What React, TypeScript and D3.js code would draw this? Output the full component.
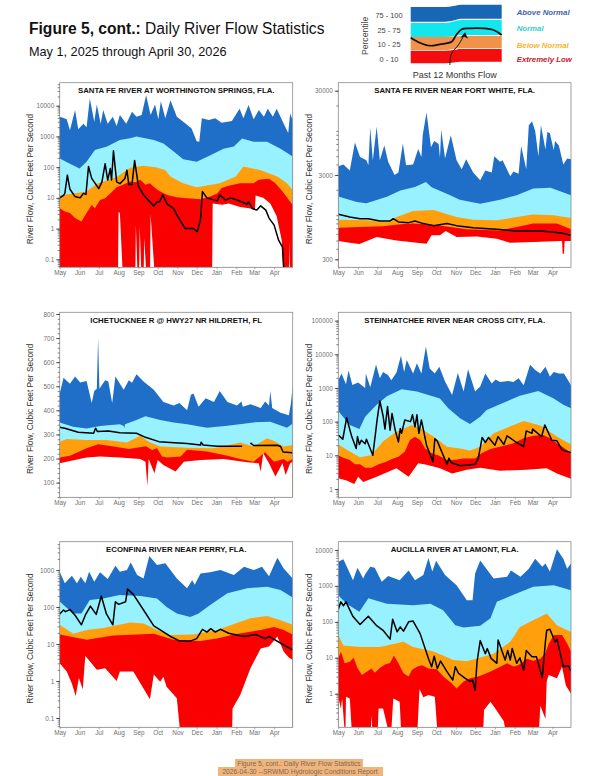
import * as d3 from "d3";
import {useRef, useEffect} from "react";

type Knot = [number, number];

const FONT = "'Liberation Sans', Arial, sans-serif";
const monthDays = [0, 31, 61, 92, 123, 153, 184, 214, 245, 276, 304, 335];
const monthLabels = ["May", "Jun", "Jul", "Aug", "Sep", "Oct", "Nov", "Dec", "Jan", "Feb", "Mar", "Apr"];

// values below the axis floor sit at 0.02 so the red runs out of the plot
const sfwMax: Knot[] = [[0,4400],[6,4000],[11,3600],[16,1600],[24,7200],[29,1700],[37,2600],[42,2000],[47,17000],[54,3000],[58,11000],[64,2600],[68,7200],[75,2600],[83,4400],[89,2200],[94,5000],[104,2600],[113,6400],[120,4400],[128,5000],[135,22000],[142,5000],[149,11000],[154,3600],[158,14000],[165,3900],[173,15000],[183,4400],[193,3000],[206,1800],[214,700],[218,670],[222,3900],[233,3400],[243,3900],[253,2800],[269,3200],[281,8000],[287,3900],[295,10500],[303,3600],[311,7200],[319,4400],[325,8000],[333,4400],[339,8000],[350,2600],[357,1300],[360,5600],[364,3400]];
const sfwP75: Knot[] = [[0,190],[16,130],[31,90],[42,150],[55,360],[74,470],[94,760],[110,870],[120,1000],[147,760],[162,590],[178,320],[193,180],[214,150],[233,230],[256,400],[272,470],[285,860],[303,670],[324,670],[345,400],[364,220]];
const sfwP25: Knot[] = [[0,12],[22,14],[42,16],[58,29],[89,48],[110,95],[130,110],[150,100],[165,80],[173,50],[193,30],[214,22],[250,30],[275,50],[287,105],[313,80],[340,50],[355,30],[364,18]];
const sfwP10: Knot[] = [[0,4.6],[8,3.6],[16,3.2],[24,2.2],[34,1.7],[42,3.2],[50,5.9],[55,4.6],[63,8.6],[71,9.8],[79,14],[89,22],[99,26.5],[110,34],[118,32],[126,39],[134,26.5],[141,30],[149,21],[157,16],[168,12.5],[183,10.5],[199,9.8],[220,9],[235,11],[246,14],[253,21],[264,25],[282,30],[303,30],[311,39],[327,42],[337,30],[348,16],[356,9.8],[364,5.9]];
const sfwMin: Knot[] = [[0,0.02],[91,0.02],[92,3.5],[94,3.2],[99,0.02],[118,0.02],[119,1.3],[122,0.02],[124,0.02],[125,1.2],[128,0.02],[131,0.02],[132,0.5],[136,0.02],[141,0.02],[142,3],[149,0.02],[238,0.02],[239,6.5],[254,6],[264,6.5],[282,5],[298,4.5],[305,4],[306,12],[318,10],[329,6.5],[339,2.5],[347,0.4],[350,0.02],[358,0.02],[359,0.4],[360,0.02],[364,0.02]];
const sfwFlow: Knot[] = [[0,10],[6,12],[8,14],[12,55],[16,19],[24,11],[32,10],[37,14],[41,13],[45,105],[50,43],[61,20],[66,33],[71,130],[75,38],[79,90],[81,38],[84,340],[89,33],[94,29],[102,43],[105,80],[108,27],[113,27],[117,165],[123,24],[131,12.5],[147,5.4],[152,7.5],[156,7.5],[161,12.5],[168,6.3],[178,4.5],[183,2.8],[196,1],[209,1],[215,0.8],[220,2],[223,16],[230,10],[246,8],[250,12.5],[259,8.5],[267,10],[277,8.5],[293,6.2],[295,7.5],[301,4.5],[308,4],[314,5.5],[322,4],[327,2.2],[335,1.3],[342,0.42],[348,0.25],[351,0.02]];

const fwMax: Knot[] = [[0,3800],[8,4000],[18,3400],[26,7300],[34,4900],[44,4500],[47,3900],[50,10900],[54,4500],[60,11200],[65,4500],[72,6700],[78,4300],[88,3000],[94,3200],[101,7100],[106,3900],[117,4000],[125,6100],[130,4900],[132,8900],[138,16500],[145,6400],[150,7600],[157,7000],[159,4800],[161,10300],[167,4700],[176,8900],[185,4500],[193,3500],[200,4600],[211,3200],[222,2600],[230,3400],[240,3200],[244,5000],[253,4300],[257,4500],[269,2900],[274,3300],[282,3100],[286,6600],[294,3500],[298,11700],[303,13000],[308,10000],[313,5000],[317,11700],[324,6000],[327,9700],[331,9400],[337,5900],[339,7600],[345,6700],[352,4000],[358,4700],[364,4600]];
const fwP75: Knot[] = [[0,1670],[29,1430],[44,1390],[76,1650],[97,1970],[120,2160],[137,2480],[146,2150],[175,1720],[190,1530],[222,1370],[253,1530],[279,1720],[305,2070],[332,2120],[364,1720]];
const fwP25: Knot[] = [[0,885],[44,870],[76,830],[91,950],[117,1120],[149,1150],[185,950],[211,885],[248,870],[279,950],[305,1020],[337,1000],[364,925]];
const fwP10: Knot[] = [[0,710],[34,725],[70,740],[97,780],[117,795],[149,770],[175,725],[201,680],[253,660],[279,725],[305,795],[342,795],[364,680]];
const fwMin: Knot[] = [[0,495],[18,470],[33,455],[60,550],[91,500],[123,470],[138,460],[146,580],[159,580],[168,650],[185,550],[217,560],[248,525],[269,470],[305,480],[350,495],[351,350],[353,350],[354,495],[364,495]];
const fwFlow: Knot[] = [[0,1025],[18,954],[34,910],[47,910],[65,855],[81,855],[86,910],[94,832],[110,816],[120,855],[133,795],[149,752],[170,795],[185,752],[211,711],[253,675],[279,650],[317,650],[349,615],[364,578]];

const ichMax: Knot[] = [[0,470],[6,535],[16,510],[24,540],[32,516],[42,522],[50,430],[54,480],[58,490],[60,700],[62,490],[71,525],[76,520],[82,430],[87,540],[100,485],[108,525],[113,515],[120,550],[131,520],[147,485],[162,435],[178,420],[187,430],[199,400],[205,465],[209,470],[217,415],[228,450],[241,435],[250,480],[262,435],[277,420],[284,437],[286,415],[298,425],[314,410],[321,437],[327,420],[329,480],[332,410],[345,390],[358,380],[361,425],[364,500]];
const ichP75: Knot[] = [[0,350],[21,332],[42,325],[63,335],[94,342],[100,335],[101,326],[102,342],[120,360],[134,375],[157,360],[178,350],[199,342],[230,328],[262,336],[303,350],[329,353],[355,328],[364,345]];
const ichP25: Knot[] = [[0,270],[11,281],[42,277],[73,277],[105,267],[118,284],[126,295],[139,270],[157,250],[199,245],[240,243],[262,254],[282,267],[303,250],[324,284],[335,273],[350,250],[364,256]];
const ichP10: Knot[] = [[0,204],[16,212],[42,243],[60,259],[84,250],[108,240],[135,251],[144,235],[152,243],[160,208],[168,204],[189,208],[199,236],[230,229],[262,212],[282,198],[303,187],[321,226],[327,208],[335,187],[350,198],[356,187],[364,198]];
const ichMin: Knot[] = [[0,180],[16,190],[42,204],[63,208],[94,204],[126,198],[134,187],[137,86],[139,198],[144,165],[148,139],[153,194],[162,173],[181,146],[194,187],[220,194],[256,198],[293,184],[311,180],[314,146],[318,222],[327,180],[337,125],[348,180],[353,132],[360,180],[364,187]];
const ichFlow: Knot[] = [[0,330],[8,326],[29,309],[53,305],[56,326],[59,312],[76,314],[94,307],[120,305],[134,288],[155,270],[173,267],[199,262],[220,256],[221,268],[224,256],[246,251],[272,251],[285,251],[287,NaN],[291,251],[296,NaN],[298,265],[303,254],[340,255],[345,250],[349,227],[364,224]];

const steMax: Knot[] = [[0,1700],[5,2700],[12,1280],[16,3300],[22,1220],[31,1450],[42,1000],[43,2700],[50,1050],[59,5000],[65,1950],[70,3000],[78,2400],[83,1700],[91,2900],[98,9000],[103,3000],[107,6800],[117,2700],[123,5400],[130,2700],[137,17000],[143,3800],[151,2700],[158,4300],[167,1550],[178,620],[187,2800],[196,780],[203,3600],[214,780],[222,1100],[230,2700],[240,1350],[246,1800],[253,1500],[266,1600],[274,1500],[282,1950],[290,1200],[300,4900],[308,3400],[316,2700],[324,4300],[331,2200],[337,3000],[345,2700],[353,2700],[364,1200]];
const steP75: Knot[] = [[0,207],[18,80],[33,60],[42,140],[60,320],[76,570],[99,920],[123,780],[159,490],[172,250],[191,125],[206,85],[222,140],[232,220],[253,330],[284,590],[313,820],[337,490],[352,320],[364,250]];
const steP25: Knot[] = [[0,21],[18,13],[34,8.7],[52,10.2],[70,26],[89,48],[115,80],[128,64],[149,36],[170,18],[191,16],[206,14],[222,18],[243,45],[264,66],[290,105],[316,77],[342,36],[364,21]];
const steP10: Knot[] = [[0,9.8],[8,8.5],[18,7.3],[26,5.4],[34,5.4],[42,4.3],[52,4.3],[63,5.4],[73,6.2],[84,7.8],[94,9.1],[104,12.8],[112,28.6],[120,35.8],[128,28.6],[136,16],[146,11.5],[157,9.8],[170,7.3],[180,7.3],[196,8.1],[214,8.1],[224,11.5],[238,15.4],[253,18],[274,22.7],[290,32],[305,38],[321,40],[331,32],[342,22.7],[352,17],[364,11.5]];
const steMin: Knot[] = [[0,2.1],[13,1.8],[25,1.4],[31,2.3],[39,1.6],[60,2.3],[91,4.1],[110,2.3],[125,5.8],[138,5.2],[159,4.1],[178,2.9],[201,3.7],[222,4.3],[253,3.5],[295,3.7],[326,4.1],[342,2.9],[364,2]];
const steFlow: Knot[] = [[0,40],[7,30],[13,130],[21,36],[28,16],[30,36],[33,21],[36,28],[42,22],[44,30],[54,10],[61,125],[65,410],[70,150],[73,60],[77,280],[81,56],[84,175],[89,56],[94,25],[97,63],[99,45],[104,112],[113,100],[116,160],[120,70],[123,160],[126,45],[130,112],[138,20],[148,6.5],[151,31],[155,26],[170,5.4],[173,8.2],[177,6],[191,4.9],[214,5.4],[219,8.2],[225,34],[230,24],[235,34],[245,20],[250,36],[259,21],[264,38],[279,24],[290,18],[294,53],[303,45],[304,60],[318,36],[323,80],[334,28],[342,27],[350,14.5],[364,12]];

const econMax: Knot[] = [[0,900],[8,440],[19,700],[27,440],[33,660],[40,440],[46,900],[54,480],[63,870],[75,570],[87,1300],[94,900],[105,1000],[111,1600],[121,730],[131,590],[140,2400],[152,1370],[165,1520],[183,590],[199,320],[207,530],[211,400],[220,800],[235,870],[251,1000],[272,730],[288,1230],[303,1000],[316,1230],[327,680],[340,2150],[350,1100],[364,590]];
const econP75: Knot[] = [[0,140],[21,67],[34,67],[47,155],[68,170],[94,210],[126,200],[152,170],[167,100],[183,67],[204,54],[217,67],[235,113],[262,235],[293,320],[324,355],[345,290],[364,180]];
const econP25: Knot[] = [[0,33],[21,19],[42,24],[68,27],[110,38],[131,36],[152,24],[173,17.5],[209,18],[246,24],[272,35],[298,50],[324,57],[345,44],[364,33]];
const econP10: Knot[] = [[0,18],[42,13],[84,17],[147,19],[178,13],[220,12],[246,14],[272,18],[314,24],[335,29],[350,24],[364,18]];
const econMin: Knot[] = [[0,3],[11,1.8],[19,0.86],[25,0.39],[30,1.2],[36,0.6],[40,4.8],[58,2],[71,2.2],[89,1],[94,1.8],[115,1.8],[141,0.32],[147,1.5],[157,0.96],[162,1.3],[167,0.7],[183,0.34],[190,0.02],[269,0.02],[270,0.18],[282,0.42],[298,2.2],[314,7.6],[327,8.5],[340,16],[350,6.2],[358,4.3],[364,3.7]];
const econFlow: Knot[] = [[0,65],[6,83],[9,75],[16,85],[24,60],[34,33],[40,60],[48,106],[57,63],[65,198],[73,65],[83,33],[87,139],[92,118],[103,139],[106,305],[115,220],[131,83],[147,31],[157,24],[173,16],[188,12],[204,12],[214,14],[223,25],[230,21],[236,26],[243,21],[251,25],[264,19.5],[288,16],[306,18],[321,14],[327,16],[350,9.4],[364,6.9]];

const aucMax: Knot[] = [[0,4700],[8,5500],[23,1430],[30,3200],[39,1600],[42,2100],[50,3400],[57,3200],[68,1300],[78,1900],[96,1430],[110,2700],[120,1430],[133,2000],[141,6000],[147,2500],[153,5000],[167,2000],[185,1050],[201,400],[210,400],[214,2200],[222,5100],[243,1600],[264,1800],[270,2700],[285,1800],[298,3000],[308,5700],[319,3400],[324,4200],[331,2500],[342,10400],[352,5700],[358,3000],[364,4200]];
const aucP75: Knot[] = [[0,550],[13,320],[33,190],[47,450],[76,320],[117,290],[144,320],[164,210],[183,80],[196,70],[222,78],[238,125],[248,360],[274,570],[305,940],[337,1050],[364,760]];
const aucP25: Knot[] = [[0,43],[8,22],[34,20],[65,20],[102,28],[117,20],[149,15],[180,8.6],[201,8],[217,9.6],[243,13],[269,28],[284,72],[305,110],[326,170],[342,80],[364,52]];
const aucP10: Knot[] = [[0,9.6],[4,14.7],[10,7],[18,7.8],[24,10],[30,5.2],[37,3.3],[44,4],[52,5],[57,3.8],[65,5.2],[73,6.5],[81,7.2],[87,11.5],[94,7],[102,3.7],[110,3],[115,4.6],[123,5.6],[131,6.2],[141,5],[154,4.8],[165,2.9],[175,2.1],[185,1.4],[196,2.2],[206,2.7],[219,3],[232,3.7],[248,5],[264,7],[274,5.7],[282,6.3],[295,9.4],[305,8.2],[316,9.4],[324,13.6],[329,24],[337,43],[350,43],[358,25],[364,15]];
const aucMin: Knot[] = [[0,0.8],[4,0.39],[6,0.74],[11,0.05],[12,0.82],[18,0.74],[22,0.05],[50,0.05],[52,0.25],[54,0.05],[61,0.05],[63,0.39],[70,0.39],[82,0.05],[86,0.74],[96,0.6],[99,0.05],[123,0.05],[127,1.35],[133,0.8],[141,0.92],[151,0.82],[156,0.05],[226,0.05],[228,0.35],[238,0.6],[245,0.4],[259,0.17],[264,0.05],[313,0.05],[316,0.46],[324,0.2],[326,2.2],[329,3.3],[342,2.7],[350,5.6],[356,1.7],[364,1]];
const aucFlow: Knot[] = [[0,225],[4,360],[8,280],[12,360],[23,140],[34,84],[47,143],[60,78],[70,58],[81,33],[85,118],[92,53],[97,72],[102,55],[110,100],[117,105],[128,47],[141,9.6],[146,5.6],[150,11],[155,5],[160,8.1],[170,4.1],[179,2.4],[183,5.6],[188,3.7],[198,2.7],[206,2.2],[210,2.4],[214,1.26],[217,7.7],[222,30],[230,13],[233,18],[239,9.6],[248,7],[250,31],[261,8.6],[265,16],[269,8.6],[272,18],[279,7],[284,10],[290,4.5],[294,16],[303,10.6],[310,10.6],[319,2.8],[324,28],[326,58],[331,62],[339,28],[342,33],[352,5.6],[360,6],[364,4.3]];

// legend sketch: edges in legend units, shared x stops
const legendX = [0, 38, 47, 55, 100];
const legendBands = [
  {color: "#1767b5", top: [57, 57, 58, 59.3, 59.3], bottom: [42.3, 42.3, 43.5, 45.3, 45.3]},
  {color: "#14e6ee", top: [41, 41, 42.5, 44, 44], bottom: [27, 27, 28, 29, 29]},
  {color: "#f0924a", top: [27, 27, 27.5, 28, 28], bottom: [14, 14, 15, 15.7, 15.7]},
  {color: "#f40d0d", top: [13.3, 13.3, 14, 15, 15], bottom: [0.7, 0.7, 1.5, 2.3, 2.3]},
];
const legendFlowX = [0, 10, 21, 32, 45, 50, 56, 65, 80, 91, 100];
const legendFlowY = [26.3, 21.3, 18.3, 19.7, 22.3, 29, 34.7, 35.7, 35.7, 34, 29];
const legendArrowX = [43, 45, 52.4, 59.7];
const legendArrowY = [-1, 10.7, 19, 30.7];
const percentileLabels = ["75 - 100", "25 - 75", "10 - 25", "0 - 10"];
const statusLabels = [
  {text: "Above Normal", color: "#3f63ad"},
  {text: "Normal", color: "#2fd0d0"},
  {text: "Below Normal", color: "#f3b62f"},
  {text: "Extremely Low", color: "#c4202c"},
];

const BLUE = "#1f6fc9";
const CYAN = "#98f1ff";
const ORANGE = "#ff9f0c";
const RED = "#fb0000";

interface PanelProps {
  title: string;
  left: number;
  top: number;
  width: number;
  height: number;
  log: boolean;
  domain: [number, number];
  majors: number[];
  minors: number[];
  bands: Knot[][];
  floor: Knot[];
  flow: Knot[];
}

const Panel = ({title, left, top, width, height, log, domain, majors, minors, bands, floor, flow}: PanelProps) => {
  const gx = useRef<SVGGElement | null>(null);
  const gy = useRef<SVGGElement | null>(null);
  const gminor = useRef<SVGGElement | null>(null);

  const x = d3.scaleLinear().domain([0, 364]).range([0, width]);
  const y = (log ? d3.scaleLog() : d3.scaleLinear()).domain(domain).range([height, 0]);

  const area = d3
    .area<Knot>()
    .x((d) => x(d[0]))
    .y0(height)
    .y1((d) => y(d[1]) as number);

  const line = d3
    .line<Knot>()
    .defined((d) => !Number.isNaN(d[1]))
    .x((d) => x(d[0]))
    .y((d) => y(d[1]) as number);

  useEffect(() => {
    if (gx.current) {
      const g = d3.select(gx.current);
      g.call(
        d3
          .axisBottom(x)
          .tickValues(monthDays)
          .tickSize(2)
          .tickPadding(1.5)
          .tickFormat((_, i) => monthLabels[i])
      );
      g.select(".domain").remove();
      g.selectAll("line").attr("stroke", "#777").attr("stroke-width", 0.6);
      g.selectAll("text").attr("fill", "#707070").attr("font-size", 6.4).attr("font-family", FONT);
    }
    if (gminor.current) {
      const g = d3.select(gminor.current);
      g.call(d3.axisLeft(y as any).tickValues(minors).tickSize(2).tickFormat(() => ""));
      g.select(".domain").remove();
      g.selectAll("line").attr("stroke", "#333").attr("stroke-width", 0.6);
    }
    if (gy.current) {
      const g = d3.select(gy.current);
      g.call(
        d3
          .axisLeft(y as any)
          .tickValues(majors)
          .tickSize(3.5)
          .tickPadding(2)
          .tickFormat((d) => String(d))
      );
      g.select(".domain").remove();
      g.selectAll("line").attr("stroke", "#333").attr("stroke-width", 0.8);
      g.selectAll("text").attr("fill", "#707070").attr("font-size", 6.4).attr("font-family", FONT);
    }
  }, []);

  const clipId = `clip-${left}-${top}`;

  return (
    <g transform={`translate(${left},${top})`}>
      <clipPath id={clipId}>
        <rect width={width} height={height} />
      </clipPath>
      <g clipPath={`url(#${clipId})`}>
        <path d={area(bands[0]) ?? ""} fill={BLUE} />
        <path d={area(bands[1]) ?? ""} fill={CYAN} />
        <path d={area(bands[2]) ?? ""} fill={ORANGE} />
        <path d={area(bands[3]) ?? ""} fill={RED} />
        <path d={area(floor) ?? ""} fill="#fff" />
        <path d={line(flow) ?? ""} fill="none" stroke="#000" strokeWidth={1.5} strokeLinejoin="round" />
      </g>
      <rect width={width} height={height} fill="none" stroke="#8a8a8a" strokeWidth={0.8} />
      <g ref={gminor} />
      <g ref={gy} />
      <g ref={gx} transform={`translate(0,${height})`} />
      <text x={width / 2} y={10.8} textAnchor="middle" fontFamily={FONT} fontSize={7.8} fontWeight="bold" fill="#111">
        {title}
      </text>
      <text
        transform={`translate(-26.5,${height / 2 + 4}) rotate(-90)`}
        textAnchor="middle"
        fontFamily={FONT}
        fontSize={8.4}
        fill="#333"
      >
        River Flow, Cubic Feet Per Second
      </text>
    </g>
  );
};

const logMinors = (lo: number, hi: number) =>
  d3.range(Math.floor(Math.log10(lo)), Math.ceil(Math.log10(hi)))
    .flatMap((e) => d3.range(1, 10).map((m) => m * 10 ** e))
    .filter((v) => v >= lo && v <= hi);

const Legend = () => {
  const lx = d3.scaleLinear().domain([0, 100]).range([410.7, 501.7]);
  const ly = d3.scaleLinear().domain([0, 60]).range([64, 4]);
  const pts = (ys: number[]) => legendX.map((v, i) => [v, ys[i]] as [number, number]);
  const band = d3
    .area<[number, number, number]>()
    .curve(d3.curveMonotoneX)
    .x((d) => lx(d[0]))
    .y0((d) => ly(d[2]))
    .y1((d) => ly(d[1]));
  const curve = d3
    .line<[number, number]>()
    .curve(d3.curveCatmullRom)
    .x((d) => lx(d[0]))
    .y((d) => ly(d[1]));
  const flow = legendFlowX.map((v, i) => [v, legendFlowY[i]] as [number, number]);
  const arrow = legendArrowX.map((v, i) => [v, legendArrowY[i]] as [number, number]);
  const tip = arrow[arrow.length - 1];
  const rows = [15.7, 30, 44, 59];
  const statusRows = [12.3, 28, 45, 59];

  return (
    <g>
      {legendBands.map((b) => (
        <path
          key={b.color}
          d={band(pts(b.top).map((p, i) => [p[0], p[1], b.bottom[i]] as [number, number, number])) ?? ""}
          fill={b.color}
        />
      ))}
      <path d={curve(flow) ?? ""} fill="none" stroke="#111" strokeWidth={1.7} />
      <path d={curve(arrow) ?? ""} fill="none" stroke="#111" strokeWidth={1} />
      <path
        d={`M${lx(tip[0])},${ly(tip[1]) - 1}l-4.5,5.5 l4,-1 l3.5,2z`}
        fill="#111"
      />
      {percentileLabels.map((t, i) => (
        <text key={t} x={389} y={rows[i] + 2.6} textAnchor="middle" fontFamily={FONT} fontSize={7.4} fill="#444">
          {t}
        </text>
      ))}
      <text transform="translate(368,55) rotate(-90)" fontFamily={FONT} fontSize={8.6} fill="#444">
        Percentile
      </text>
      {statusLabels.map((s, i) => (
        <text key={s.text} x={516.7} y={statusRows[i] + 2.7} fontFamily={FONT} fontSize={7.8} fontStyle="italic" fontWeight="bold" fill={s.color}>
          {s.text}
        </text>
      ))}
      <text x={454.7} y={77.8} textAnchor="middle" fontFamily={FONT} fontSize={9} fill="#333">
        Past 12 Months Flow
      </text>
    </g>
  );
};

const PW = 233;
const PW2 = 232.7;
const PH = 184.6;
const PH2 = 185;
const PH3 = 185.6;

export default function App() {
  const log1: [number, number] = [0.055, 56000];
  return (
    <svg width={600} height={776} style={{position: "absolute", left: 0, top: 0, background: "#fff"}}>
      <text x={29} y={34} fontFamily={FONT} fontSize={15.6} fill="#111">
        <tspan fontWeight="bold">Figure 5, cont.:</tspan> Daily River Flow Statistics
      </text>
      <text x={29} y={55.7} fontFamily={FONT} fontSize={12.7} fill="#111">
        May 1, 2025 through April 30, 2026
      </text>
      <Legend />

      <Panel
        title="SANTA FE RIVER AT WORTHINGTON SPRINGS, FLA."
        left={59.7} top={82.7} width={PW} height={PH}
        log domain={log1}
        majors={[0.1, 1, 10, 100, 1000, 10000]}
        minors={logMinors(0.06, 50000)}
        bands={[sfwMax, sfwP75, sfwP25, sfwP10]} floor={sfwMin} flow={sfwFlow}
      />
      <Panel
        title="SANTA FE RIVER NEAR FORT WHITE, FLA."
        left={338.3} top={82.7} width={PW2} height={PH}
        log domain={[241, 37300]}
        majors={[300, 3000, 30000]}
        minors={logMinors(250, 36000)}
        bands={[fwMax, fwP75, fwP25, fwP10]} floor={fwMin} flow={fwFlow}
      />
      <Panel
        title="ICHETUCKNEE R @ HWY27 NR HILDRETH, FL"
        left={59.7} top={312.3} width={PW} height={PH2}
        log={false} domain={[39, 807]}
        majors={[100, 200, 300, 400, 500, 600, 700, 800]}
        minors={d3.range(40, 801, 20)}
        bands={[ichMax, ichP75, ichP25, ichP10]} floor={ichMin} flow={ichFlow}
      />
      <Panel
        title="STEINHATCHEE RIVER NEAR CROSS CITY, FLA."
        left={338.3} top={312.3} width={PW2} height={PH2}
        log domain={[0.566, 177000]}
        majors={[1, 10, 100, 1000, 10000, 100000]}
        minors={logMinors(0.6, 170000)}
        bands={[steMax, steP75, steP25, steP10]} floor={steMin} flow={steFlow}
      />
      <Panel
        title="ECONFINA RIVER NEAR PERRY, FLA."
        left={59.7} top={541.7} width={PW} height={PH3}
        log domain={[0.056, 5830]}
        majors={[0.1, 1, 10, 100, 1000]}
        minors={logMinors(0.06, 5000)}
        bands={[econMax, econP75, econP25, econP10]} floor={econMin} flow={econFlow}
      />
      <Panel
        title="AUCILLA RIVER AT LAMONT, FLA."
        left={338.3} top={541.7} width={PW2} height={PH3}
        log domain={[0.116, 17000]}
        majors={[1, 10, 100, 1000, 10000]}
        minors={logMinors(0.12, 16000)}
        bands={[aucMax, aucP75, aucP25, aucP10]} floor={aucMin} flow={aucFlow}
      />

      <rect x={235} y={759} width={128} height={8} fill="#f1b57c" />
      <rect x={218} y={767} width={165} height={9} fill="#f1b57c" />
      <text x={299} y={765.5} textAnchor="middle" fontFamily={FONT} fontSize={6.7} fill="#7a6a5a">
        Figure 5, cont.: Daily River Flow Statistics
      </text>
      <text x={300} y={774} textAnchor="middle" fontFamily={FONT} fontSize={6.7} fill="#7a6a5a">
        2026-04-30 --SRWMD Hydrologic Conditions Report
      </text>
    </svg>
  );
}
